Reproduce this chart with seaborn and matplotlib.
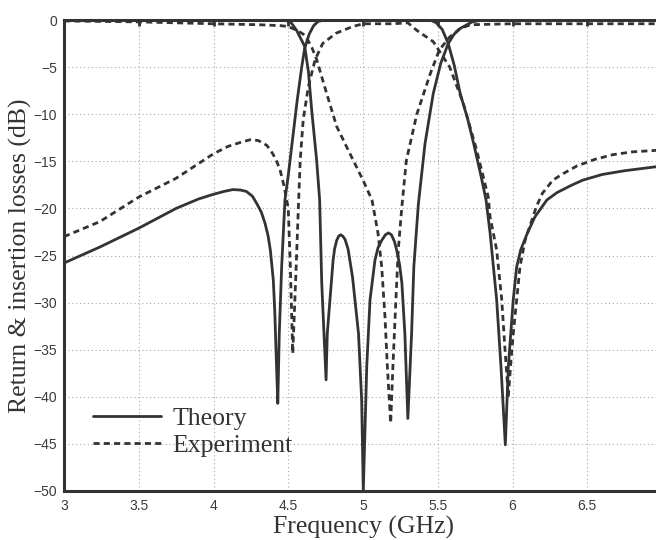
import matplotlib
matplotlib.use("Agg")
import matplotlib.pyplot as plt
from matplotlib.lines import Line2D
import seaborn as sns

# theory, insertion loss (S21)
theory_s21_freq = [3.00, 3.24, 3.50, 3.75, 3.90, 4.00, 4.07, 4.13, 4.18, 4.22, 4.26, 4.29,
                   4.32, 4.345, 4.365, 4.38, 4.40, 4.41, 4.42, 4.43, 4.44, 4.456, 4.478,
                   4.50, 4.53, 4.56, 4.59, 4.61, 4.64, 4.67, 4.70, 4.74, 5.45, 5.49,
                   5.53, 5.57, 5.61, 5.65, 5.70, 5.74, 5.79, 5.823, 5.85, 5.894, 5.923,
                   5.952, 5.972, 6.005, 6.028, 6.055, 6.10, 6.15, 6.23, 6.30, 6.40, 6.47,
                   6.60, 6.75, 6.90, 7.00]
theory_s21_db = [-25.8, -24.1, -22.1, -20.0, -19.0, -18.5, -18.2, -18.0, -18.05, -18.2, -18.7, -19.5,
                 -20.4, -21.6, -22.9, -24.4, -27.6, -31.0, -36.0, -40.7, -33.3, -26.2, -19.1,
                 -16.5, -12.5, -8.5, -5.0, -3.0, -1.5, -0.6, -0.15, 0.0, 0.0, -0.3,
                 -1.0, -2.5, -4.8, -7.8, -10.5, -13.1, -16.6, -19.1, -22.6, -29.7, -36.8,
                 -45.1, -36.8, -29.7, -26.2, -24.4, -22.6, -20.9, -19.1, -18.3, -17.5, -17.0,
                 -16.4, -16.0, -15.7, -15.5]

# theory, return loss (S11)
theory_s11_freq = [3.00, 4.48, 4.52, 4.556, 4.61, 4.635, 4.657, 4.69, 4.71, 4.724, 4.739,
                   4.753, 4.761, 4.779, 4.80, 4.81, 4.824, 4.837, 4.85, 4.865, 4.88, 4.90,
                   4.93, 4.97, 4.991, 5.002, 5.025, 5.047, 5.08, 5.10, 5.125, 5.15, 5.17,
                   5.19, 5.21, 5.225, 5.245, 5.26, 5.28, 5.30, 5.325, 5.34, 5.37, 5.415,
                   5.47, 5.52, 5.57, 5.61, 5.65, 5.73, 5.80, 7.00]
theory_s11_db = [0.0, 0.0, -0.3, -1.1, -2.8, -5.5, -9.6, -14.9, -19.1, -27.9, -33.3,
                 -38.2, -33.3, -29.7, -25.5, -24.3, -23.4, -22.95, -22.8, -22.95, -23.3, -24.3,
                 -27.3, -33.3, -40.3, -50.0, -36.8, -29.7, -25.5, -24.2, -23.4, -22.8, -22.6,
                 -22.8, -23.5, -24.4, -26.0, -27.9, -33.3, -42.3, -33.3, -26.2, -19.6, -13.1,
                 -7.8, -4.6, -2.5, -1.5, -0.9, -0.2, 0.0, 0.0]

# experiment, insertion loss (S21)
exp_s21_freq = [3.00, 3.24, 3.50, 3.75, 4.00, 4.10, 4.20, 4.25, 4.30, 4.356, 4.38, 4.40,
                4.42, 4.445, 4.47, 4.50, 4.514, 4.53, 4.553, 4.567, 4.58, 4.60, 4.634,
                4.68, 4.73, 4.82, 4.93, 5.00, 5.20, 5.30, 5.36, 5.47, 5.58, 5.67,
                5.76, 5.838, 5.85, 5.894, 5.928, 5.95, 5.972, 5.99, 6.005, 6.028, 6.05,
                6.084, 6.16, 6.20, 6.27, 6.34, 6.43, 6.55, 6.67, 6.80, 7.00]
exp_s21_db = [-23.0, -21.4, -18.8, -16.8, -14.2, -13.4, -12.9, -12.7, -12.8, -13.3, -13.8, -14.3,
              -14.9, -15.9, -17.5, -20.0, -26.2, -35.4, -26.2, -20.2, -14.9, -10.6, -7.1,
              -4.2, -2.5, -1.4, -0.7, -0.4, -0.4, -0.3, -1.1, -2.3, -5.0, -8.8,
              -13.8, -18.8, -20.9, -24.4, -29.7, -35.0, -40.0, -36.1, -33.3, -29.7, -26.2,
              -23.4, -19.8, -18.4, -17.0, -16.3, -15.5, -14.8, -14.3, -14.0, -13.8]

# experiment, return loss (S11)
exp_s11_freq = [3.00, 3.50, 4.00, 4.30, 4.45, 4.50, 4.56, 4.60, 4.63, 4.66, 4.69, 4.757,
                4.824, 4.913, 5.00, 5.06, 5.10, 5.125, 5.147, 5.163, 5.185, 5.20, 5.22,
                5.236, 5.26, 5.29, 5.36, 5.45, 5.51, 5.58, 5.65, 5.72, 6.00, 7.00]
exp_s11_db = [-0.1, -0.2, -0.4, -0.5, -0.6, -0.7, -1.1, -1.5, -2.1, -3.0, -4.2, -7.8,
              -11.3, -14.2, -17.0, -19.1, -22.6, -26.2, -31.5, -36.8, -42.8, -36.8, -29.7,
              -24.4, -19.8, -14.9, -10.0, -5.7, -3.2, -1.8, -0.9, -0.5, -0.4, -0.4]

x_ticks = [3, 3.5, 4, 4.5, 5, 5.5, 6, 6.5]
x_tick_labels = ["3", "3.5", "4", "4.5", "5", "5.5", "6", "6.5"]
y_ticks = list(range(-50, 1, 5))

ink = "#333333"
dash = (0, (2.2, 1.5))

sns.set_theme(style="white")
plt.rcParams["font.family"] = ["Liberation Sans", "DejaVu Sans"]

fig = plt.figure(figsize=(6.56, 5.4), dpi=100)
# the right edge of the original axes (7 GHz) sits just past the image edge
ax = fig.add_axes([64 / 656, 49 / 540, 598 / 656, 471 / 540])

sns.lineplot(x=theory_s21_freq, y=theory_s21_db, ax=ax, color=ink, linewidth=2.0,
             estimator=None, sort=False)
sns.lineplot(x=theory_s11_freq, y=theory_s11_db, ax=ax, color=ink, linewidth=2.0,
             estimator=None, sort=False)
sns.lineplot(x=exp_s21_freq, y=exp_s21_db, ax=ax, color=ink, linewidth=2.0,
             linestyle=dash, estimator=None, sort=False)
sns.lineplot(x=exp_s11_freq, y=exp_s11_db, ax=ax, color=ink, linewidth=2.0,
             linestyle=dash, estimator=None, sort=False)

ax.set_xlim(3, 7)
ax.set_ylim(-50, 0)
ax.set_xticks(x_ticks)
ax.set_xticklabels(x_tick_labels)
ax.set_yticks(y_ticks)

ax.grid(True, linestyle=(0, (1, 2.5)), color="#a8a8a8", linewidth=0.8)
ax.set_axisbelow(True)

for side in ["left", "bottom", "top", "right"]:
    ax.spines[side].set_visible(True)
    ax.spines[side].set_color(ink)
    ax.spines[side].set_linewidth(2.2)

ax.tick_params(axis="both", direction="in", length=4, width=2, color=ink,
               labelsize=10, labelcolor="#3a3a3a", top=True, right=True)
ax.tick_params(axis="x", pad=6)
ax.tick_params(axis="y", pad=5)

serif = ["Liberation Serif", "DejaVu Serif"]
ax.set_xlabel("Frequency (GHz)", fontsize=18.5, family=serif, color=ink)
ax.set_ylabel("Return & insertion losses (dB)", fontsize=18.5, family=serif, color=ink)
ax.xaxis.set_label_coords(0.5, -0.053)
ax.yaxis.set_label_coords(-0.053, 0.5)

handles = [Line2D([], [], color=ink, linewidth=2.0),
           Line2D([], [], color=ink, linewidth=2.0, linestyle=dash)]
ax.legend(handles, ["Theory", "Experiment"], loc="lower left",
          bbox_to_anchor=(0.048, 0.072), frameon=False,
          prop={"family": serif, "size": 18.5}, handlelength=2.65,
          handletextpad=0.45, labelspacing=0.16, borderpad=0, borderaxespad=0,
          labelcolor=ink)

fig.savefig("out.png", dpi=100)
